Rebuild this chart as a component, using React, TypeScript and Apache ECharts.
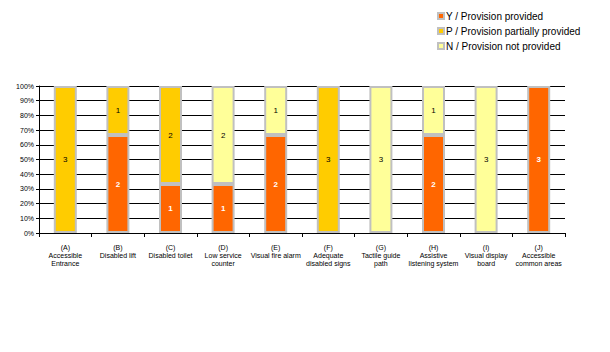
import React, { useEffect, useRef } from "react";
import * as echarts from "echarts";

const categories = [
  "(A)\nAccessible\nEntrance",
  "(B)\nDisabled lift",
  "(C)\nDisabled toilet",
  "(D)\nLow service\ncounter",
  "(E)\nVisual fire alarm",
  "(F)\nAdequate\ndisabled signs",
  "(G)\nTactile guide\npath",
  "(H)\nAssistive\nlistening system",
  "(I)\nVisual display\nboard",
  "(J)\nAccessible\ncommon areas",
];
const provided = [0, 2, 1, 1, 2, 0, 0, 2, 0, 3];
const partial = [3, 1, 2, 0, 0, 3, 0, 0, 0, 0];
const notProvided = [0, 0, 0, 2, 1, 0, 3, 1, 3, 0];
const seriesNames = [
  "Y / Provision provided",
  "P / Provision partially provided",
  "N / Provision not provided",
];
const seriesColors = ["#FF6600", "#FFCC00", "#FFFF99"];
const labelColors = ["#FFFFFF", "#000000", "#000000"];
const yTicks = [0, 10, 20, 30, 40, 50, 60, 70, 80, 90, 100];

const FONT = "'Liberation Sans', Arial, sans-serif";

export default function App() {
  const ref = useRef<HTMLDivElement>(null);
  useEffect(() => {
    document.body.style.margin = "0";
    const chart = echarts.init(ref.current!, undefined, { renderer: "svg" });
    const all = [provided, partial, notProvided];
    const totals = categories.map((_, i) => provided[i] + partial[i] + notProvided[i]);
    chart.setOption({
      animation: false,
      backgroundColor: "#FFFFFF",
      textStyle: { fontFamily: FONT },
      legend: {
        orient: "vertical",
        left: 432,
        top: 6,
        icon: "rect",
        itemWidth: 6,
        itemHeight: 6,
        itemGap: 5,
        textStyle: { fontSize: 10, color: "#000", fontFamily: FONT, padding: [0, 0, 0, -3] },
        data: seriesNames,
      },
      grid: { left: 39, top: 86, width: 526, height: 147, containLabel: false },
      xAxis: {
        type: "category",
        data: categories,
        axisLine: { lineStyle: { color: "#000", width: 1 } },
        axisTick: { show: true, length: 4, lineStyle: { color: "#000" } },
        axisLabel: {
          interval: 0,
          fontSize: 7,
          lineHeight: 8,
          color: "#000",
          margin: 10,
          fontFamily: FONT,
        },
      },
      yAxis: {
        type: "value",
        min: 0,
        max: 100,
        interval: 10,
        axisLine: { show: true, lineStyle: { color: "#000", width: 1 } },
        axisTick: { show: true, length: 3, lineStyle: { color: "#000" } },
        splitLine: { lineStyle: { color: "#000", width: 1 } },
        axisLabel: {
          formatter: (v: number) => (yTicks.includes(v) ? v + "%" : ""),
          fontSize: 7,
          color: "#000",
          margin: 5,
          fontFamily: FONT,
        },
      },
      series: all.map((arr, s) => ({
        name: seriesNames[s],
        type: "bar",
        stack: "total",
        barWidth: 23,
        itemStyle: { color: seriesColors[s], borderColor: "#C0C0C0", borderWidth: 2 },
        label: {
          show: true,
          position: "inside",
          color: labelColors[s],
          fontSize: 8,
          fontWeight: s === 0 ? "bold" : "normal",
          fontFamily: FONT,
          formatter: (p: any) => (arr[p.dataIndex] > 0 ? String(arr[p.dataIndex]) : ""),
        },
        data: arr.map((v, i) => (v > 0 ? (v / totals[i]) * 100 : null)),
      })),
    });
    return () => chart.dispose();
  }, []);
  return <div ref={ref} style={{ width: 610, height: 352, position: "absolute", left: 0, top: 0 }} />;
}
